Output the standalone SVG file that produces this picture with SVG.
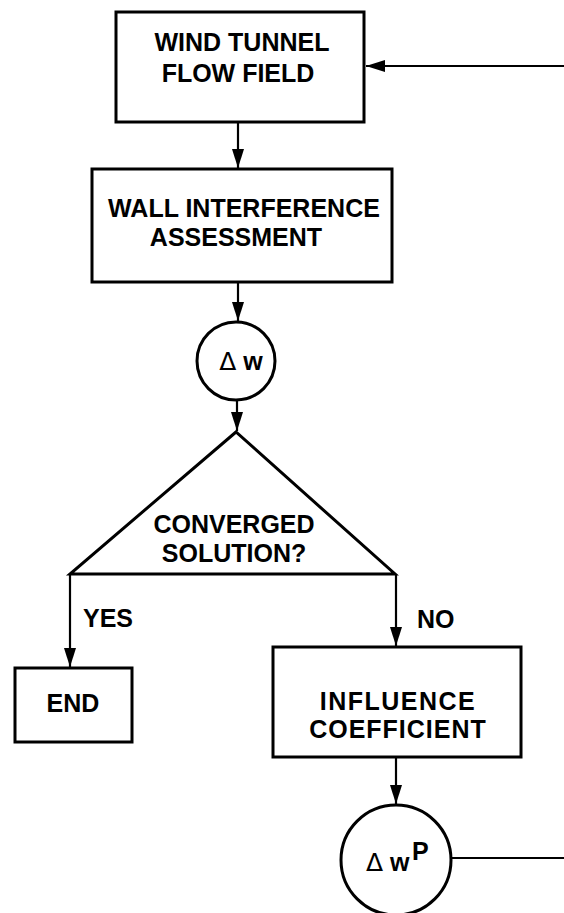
<svg xmlns="http://www.w3.org/2000/svg" width="564" height="913" viewBox="0 0 564 913">
<style>
.box{fill:#fff;stroke:#000;stroke-width:3}
.ln{fill:none;stroke:#000;stroke-width:2.2}
.t{font-family:"Liberation Sans",Arial,sans-serif;font-weight:bold;font-size:25px;fill:#000;text-anchor:middle}
.lab{font-family:"Liberation Sans",Arial,sans-serif;font-weight:bold;font-size:25px;fill:#000}
.d{font-family:"DejaVu Sans",sans-serif;font-weight:normal}
</style>
<defs>
<marker id="ah" viewBox="0 0 19 12" refX="19" refY="6" markerWidth="19" markerHeight="12" markerUnits="userSpaceOnUse" orient="auto">
<path d="M0,0 L19,6 L0,12 Z" fill="#000"/>
</marker>
</defs>
<rect width="564" height="913" fill="#fff"/>
<g id="connectors">
<line class="ln" x1="564" y1="66" x2="366" y2="66" marker-end="url(#ah)"/>
<line class="ln" x1="238" y1="122" x2="238" y2="168" marker-end="url(#ah)"/>
<line class="ln" x1="238" y1="282" x2="238" y2="321" marker-end="url(#ah)"/>
<line class="ln" x1="237" y1="400" x2="237" y2="431" marker-end="url(#ah)"/>
<line class="ln" x1="70" y1="574" x2="70" y2="667" marker-end="url(#ah)"/>
<line class="ln" x1="396" y1="574" x2="396" y2="646" marker-end="url(#ah)"/>
<line class="ln" x1="396" y1="757" x2="396" y2="804" marker-end="url(#ah)"/>
<line class="ln" x1="451" y1="858" x2="564" y2="858"/>
<text class="lab" x="83" y="627">YES</text>
<text class="lab" x="417" y="628">NO</text>
</g>
<g id="wind-tunnel">
<rect class="box" x="116" y="12" width="248" height="110"/>
<text class="t" x="242" y="51">WIND TUNNEL</text>
<text class="t" x="238" y="82">FLOW FIELD</text>
</g>
<g id="wall-interference">
<rect class="box" x="92" y="169" width="300" height="113"/>
<text class="t" x="244" y="217">WALL INTERFERENCE</text>
<text class="t" x="236" y="246">ASSESSMENT</text>
</g>
<g id="delta-w">
<circle cx="236" cy="361" r="39" fill="#fff" stroke="#000" stroke-width="3"/>
<text class="t" x="241" y="370" font-size="22"><tspan class="d">Δ</tspan> w</text>
</g>
<g id="converged">
<path d="M236,432 L70,574 L395,574 Z" fill="#fff" stroke="#000" stroke-width="3" stroke-linejoin="miter"/>
<text class="t" x="234" y="533">CONVERGED</text>
<text class="t" x="234" y="562">SOLUTION?</text>
</g>
<g id="end">
<rect class="box" x="15" y="668" width="117" height="74"/>
<text class="t" x="73" y="712">END</text>
</g>
<g id="influence">
<rect class="box" x="273" y="647" width="248" height="110"/>
<text class="t" x="398" y="710" letter-spacing="1.5">INFLUENCE</text>
<text class="t" x="398" y="738" letter-spacing="1">COEFFICIENT</text>
</g>
<g id="delta-wp">
<circle cx="396" cy="860" r="55" fill="#fff" stroke="#000" stroke-width="3"/>
<text class="lab" x="366" y="871" font-size="24"><tspan class="d">Δ</tspan> w</text>
<text class="lab" x="412" y="860" font-size="22">P</text>
</g>
</svg>
